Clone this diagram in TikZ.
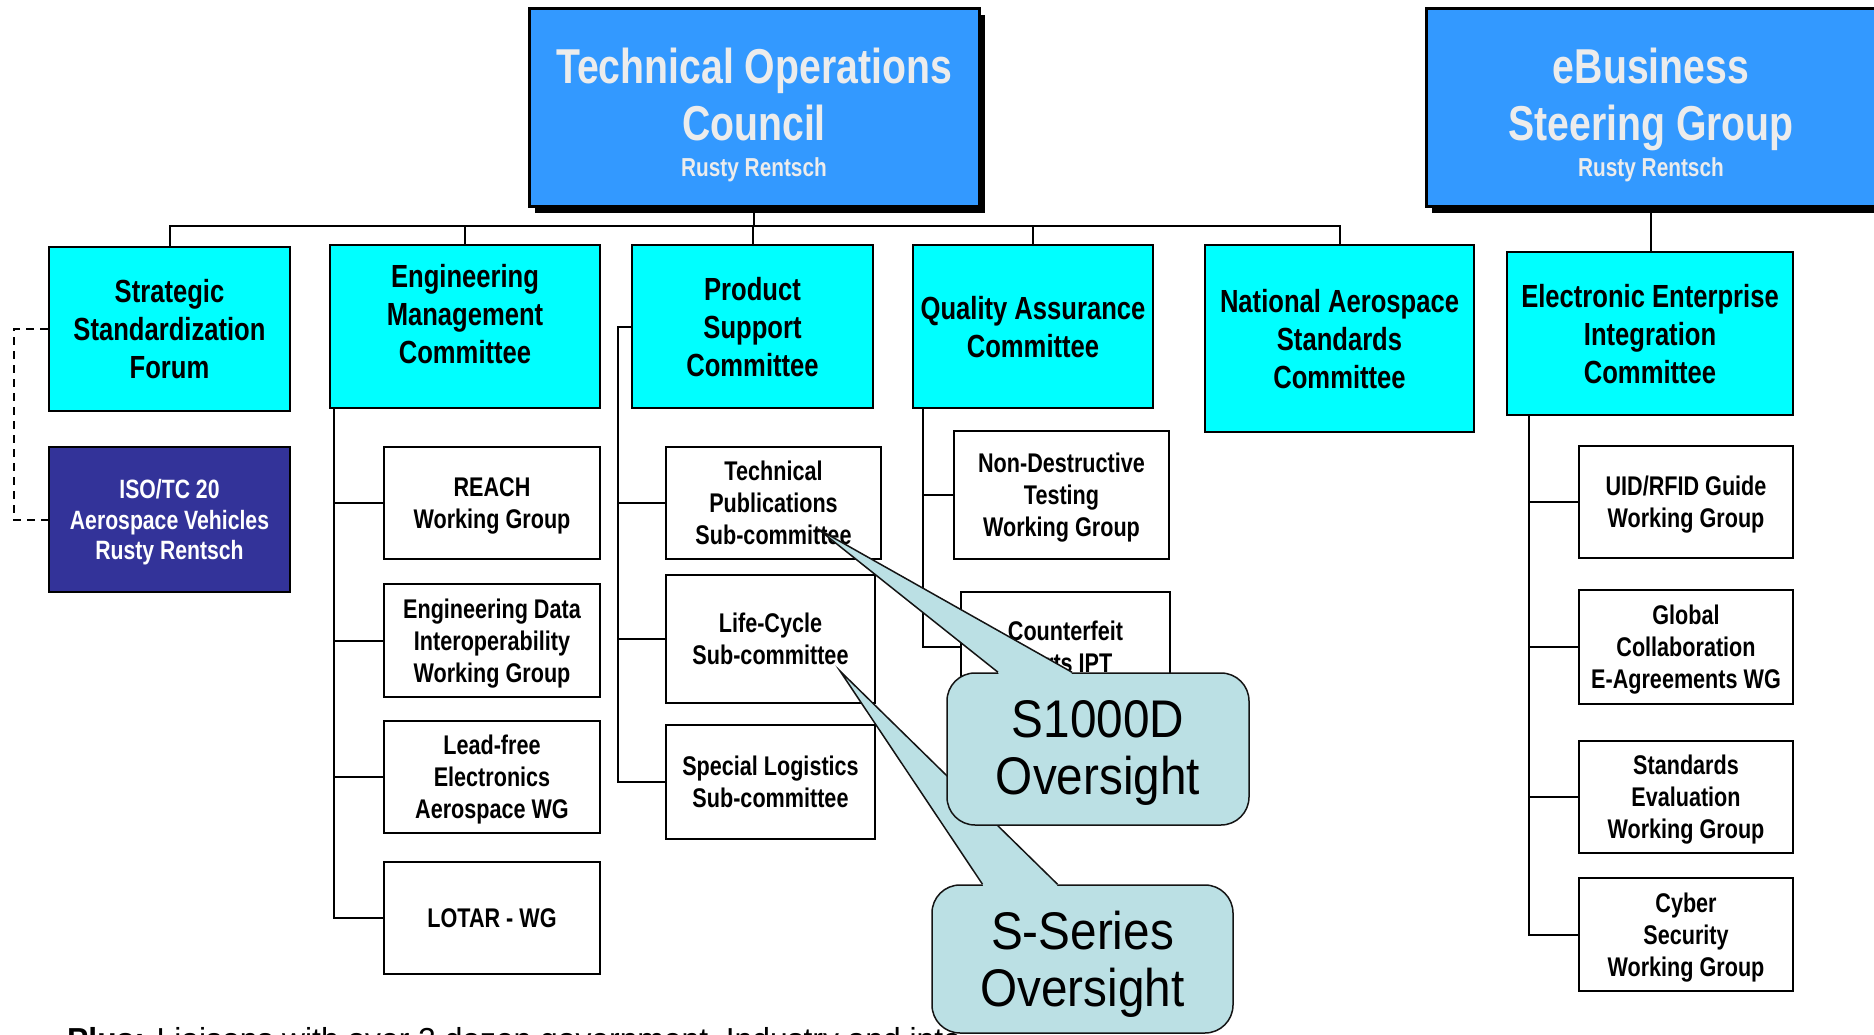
\documentclass[tikz,border=0pt]{standalone}
\usepackage{fontspec}
\setmainfont{Liberation Sans}[FakeStretch=0.8]
\newfontfamily\callfont{Liberation Sans}[FakeStretch=0.9]
\newfontfamily\plainfont{Liberation Sans}
\usetikzlibrary{shadows}
\definecolor{tocblue}{RGB}{51,153,255}
\definecolor{lvcyan}{RGB}{0,255,255}
\definecolor{isoblue}{RGB}{51,51,153}
\definecolor{paletext}{RGB}{236,236,236}
\definecolor{callfill}{RGB}{187,224,228}
\definecolor{callline}{RGB}{20,20,20}
\begin{document}
\begin{tikzpicture}[x=1pt,y=-1pt,
 sz/.style 2 args={minimum width=#1pt, minimum height=#2pt},
 topbox/.style={draw=black, line width=3pt, fill=tocblue, inner sep=0pt,
   drop shadow={opacity=1, fill=black, shadow xshift=6pt, shadow yshift=-6pt}},
 toptitle/.style={anchor=base, inner sep=0pt, text=paletext, font=\bfseries\fontsize{49}{57}\selectfont},
 topname/.style={anchor=base, inner sep=0pt, text=paletext, font=\bfseries\fontsize{26}{30}\selectfont},
 lvbox/.style={draw=black, line width=2.5pt, fill=lvcyan, inner sep=0pt, align=center, text depth=-2pt, font=\bfseries\fontsize{32}{38}\selectfont},
 lvtext/.style={inner sep=0pt, align=center, font=\bfseries\fontsize{32}{38}\selectfont},
 wgbox/.style={draw=black, line width=2.5pt, fill=white, inner sep=0pt, align=center, text depth=-4pt, font=\bfseries\fontsize{27}{32}\selectfont},
 isobox/.style={draw=black, line width=2.5pt, fill=isoblue, text=white, inner sep=0pt, align=center, text depth=-4pt, font=\bfseries\fontsize{26.5}{30.5}\selectfont},
 conn/.style={draw=black, line width=2pt},
 dashconn/.style={draw=black, line width=2pt, dash pattern=on 8pt off 6pt},
 callbox/.style={draw=callline, line width=1.5pt, fill=callfill, rounded corners=28pt, inner sep=0pt, align=center, font=\callfont\fontsize{53}{57.5}\selectfont},
 wedgeline/.style={draw=callline, line width=1.5pt, line join=miter},
]
\useasboundingbox (0,0) rectangle (1874,1035);
\clip (0,0) rectangle (1874,1035);

% top level
\node[topbox, sz={450}{198}] (toc) at (754,108) {};
\node[toptitle] (tocA) at (754,84) {Technical Operations};
\node[toptitle] (tocB) at (754,141) {Council};
\node[topname] (tocC) at (754,177) {Rusty Rentsch};

\node[topbox, sz={450}{198}] (ebs) at (1651,108) {};
\node[toptitle] (ebsA) at (1651,84) {eBusiness};
\node[toptitle] (ebsB) at (1651,141) {Steering Group};
\node[topname] (ebsC) at (1651,177) {Rusty Rentsch};

% level 2
\node[lvbox, sz={241}{164}] (ssf) at (169.5,329) {Strategic\\Standardization\\Forum};
\node[lvbox, sz={270}{163}] (emc) at (465,326.5) {};
\node[lvtext] (emct) at (465,314) {Engineering\\Management\\Committee};
\node[lvbox, sz={241}{163}] (psc) at (752.5,326.5) {Product\\Support\\Committee};
\node[lvbox, sz={240}{163}] (qa) at (1033,326.5) {Quality Assurance\\Committee};
\node[lvbox, sz={269}{187}] (nas) at (1339.5,338.5) {National Aerospace\\Standards\\Committee};
\node[lvbox, sz={286}{163}] (eeic) at (1650,333.5) {Electronic Enterprise\\Integration\\Committee};
\node[isobox, sz={241}{145}] (iso) at (169.5,519.5) {ISO/TC 20\\Aerospace Vehicles\\Rusty Rentsch};

% working groups
\node[wgbox, sz={216}{112}] (reach) at (492,503) {REACH\\Working Group};
\node[wgbox, sz={216}{113}] (edi) at (492,640.5) {Engineering Data\\Interoperability\\Working Group};
\node[wgbox, sz={216}{112}] (lead) at (492,777) {Lead-free\\Electronics\\Aerospace WG};
\node[wgbox, sz={216}{112}] (lotar) at (492,918) {LOTAR - WG};

\node[wgbox, sz={215}{112}] (tpub) at (773.5,503) {Technical\\Publications\\Sub-committee};
\node[wgbox, sz={209}{128}] (life) at (770.5,639) {Life-Cycle\\Sub-committee};
\node[wgbox, sz={209}{114}] (spec) at (770.5,782) {Special Logistics\\Sub-committee};

\node[wgbox, sz={215}{128}] (ndt) at (1061.5,495) {Non-Destructive\\Testing\\Working Group};
\node[wgbox, sz={209}{110}] (cfit) at (1065.5,647) {Counterfeit\\Parts IPT};

\node[wgbox, sz={214}{112}] (uid) at (1686,502) {UID/RFID Guide\\Working Group};
\node[wgbox, sz={214}{114}] (gce) at (1686,647) {Global\\Collaboration\\E-Agreements WG};
\node[wgbox, sz={214}{112}] (sev) at (1686,797) {Standards\\Evaluation\\Working Group};
\node[wgbox, sz={214}{113}] (cyb) at (1686,934.5) {Cyber\\Security\\Working Group};

% connectors
\coordinate (bus) at (0,226);
\draw[conn] (ssf.north) |- (nas.north |- bus) -- (nas.north);
\draw[conn] (emc.north) -- (emc.north |- bus);
\draw[conn] (psc.north) -- (psc.north |- bus);
\draw[conn] (qa.north) -- (qa.north |- bus);
\draw[conn] (toc.south) -- (toc.south |- bus);
\draw[conn] (ebs.south) -- (ebs.south |- eeic.north);

\coordinate (emcrail) at ([xshift=5pt]emc.south west);
\draw[conn] (emcrail) |- (reach.west);
\draw[conn] (emcrail) |- (edi.west);
\draw[conn] (emcrail) |- (lead.west);
\draw[conn] (emcrail) |- (lotar.west);

\coordinate (psrail) at ([xshift=-13pt]psc.west);
\draw[conn] (psc.west) -- (psrail) |- (tpub.west);
\draw[conn] (psrail) |- (life.west);
\draw[conn] (psrail) |- (spec.west);

\coordinate (qarail) at ([xshift=11pt]qa.south west);
\draw[conn] (qarail) |- (ndt.west);
\draw[conn] (qarail) |- (cfit.west);

\coordinate (eerail) at ([xshift=23pt]eeic.south west);
\draw[conn] (eerail) |- (uid.west);
\draw[conn] (eerail) |- (gce.west);
\draw[conn] (eerail) |- (sev.west);
\draw[conn] (eerail) |- (cyb.west);

\draw[dashconn] (ssf.west) -- ++(-34,0) |- (iso.west);

% bottom note (cut off by the lower edge, as in the original)
\node[anchor=base west, inner sep=0pt, font=\plainfont\fontsize{31.8}{36}\selectfont] (plus) at (67,1050)
  {\textbf{Plus:} Liaisons with over 2 dozen government, Industry and inte};

% callouts
\node[callbox, sz={301}{148}, text depth=-1pt] (sser) at (1082.5,959) {S-Series\\Oversight};
\coordinate (sstip) at (840,671);
\fill[callfill] ([xshift=-100pt]sser.north) -- (sstip) -- ([xshift=-25pt]sser.north)
  -- ([xshift=-26pt,yshift=-3pt]sser.north) -- ([xshift=-99pt,yshift=-3pt]sser.north) -- cycle;
\draw[wedgeline] ([xshift=-100pt]sser.north) -- (sstip) -- ([xshift=-25pt]sser.north);

\node[callbox, sz={302}{152}, text depth=3pt] (sone) at (1098,749) {S1000D\\Oversight};
\coordinate (s1tip) at (818,529);
\fill[callfill] ([xshift=-100pt]sone.north) -- (s1tip) -- ([xshift=-26pt]sone.north)
  -- ([xshift=-27pt,yshift=-3pt]sone.north) -- ([xshift=-99pt,yshift=-3pt]sone.north) -- cycle;
\draw[wedgeline] ([xshift=-100pt]sone.north) -- (s1tip) -- ([xshift=-26pt]sone.north);
\end{tikzpicture}
\end{document}
